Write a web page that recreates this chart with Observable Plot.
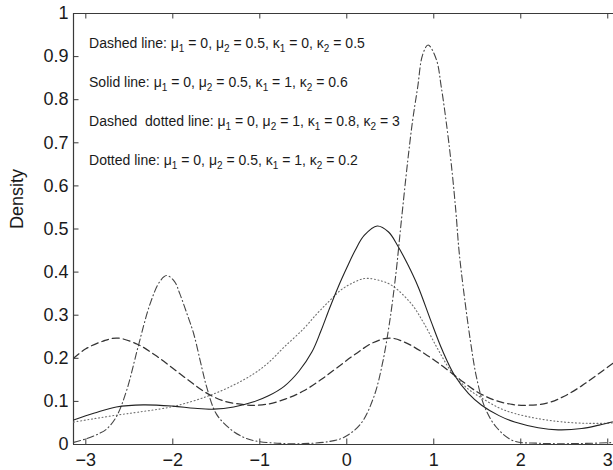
<!DOCTYPE html>
<html><head><meta charset="utf-8">
<script src="https://cdn.jsdelivr.net/npm/d3@7"></script>
<script src="https://cdn.jsdelivr.net/npm/@observablehq/plot@0.6"></script>
<style>body{margin:0;background:#fff;overflow:hidden} svg{display:block}</style>
</head><body><div id="chart"></div><script>
// ---- data ----
const xTicks = [-3, -2, -1, 0, 1, 2, 3];
const yTicks = [0, 0.1, 0.2, 0.3, 0.4, 0.5, 0.6, 0.7, 0.8, 0.9, 1];
const yTickLabels = ["0", "0.1", "0.2", "0.3", "0.4", "0.5", "0.6", "0.7", "0.8", "0.9", "1"];
const yLabel = "Density";

const annotations = [
  "Dashed line: μ_1 = 0, μ_2 = 0.5, κ_1 = 0, κ_2 = 0.5",
  "Solid line: μ_1 = 0, μ_2 = 0.5, κ_1 = 1, κ_2 = 0.6",
  "Dashed  dotted line: μ_1 = 0, μ_2 = 1, κ_1 = 0.8, κ_2 = 3",
  "Dotted line: μ_1 = 0, μ_2 = 0.5, κ_1 = 1, κ_2 = 0.2"
];

const dashedX = [-3.14,-3.0,-2.8,-2.64,-2.4,-2.2,-2.0,-1.8,-1.6,-1.4,-1.2,-1.07,-0.9,-0.7,-0.5,-0.3,-0.1,0.1,0.3,0.5,0.7,0.9,1.1,1.3,1.5,1.7,1.9,2.07,2.3,2.5,2.7,2.9,3.14];
const dashedY = [0.200,0.222,0.240,0.247,0.232,0.207,0.177,0.146,0.118,0.100,0.093,0.091,0.094,0.106,0.124,0.150,0.180,0.210,0.236,0.247,0.234,0.210,0.182,0.151,0.122,0.103,0.093,0.091,0.096,0.112,0.136,0.165,0.200];

const solidX = [-3.14,-2.9,-2.65,-2.34,-2.0,-1.75,-1.53,-1.3,-1.07,-0.9,-0.72,-0.55,-0.4,-0.3,-0.2,-0.1,0,0.1,0.2,0.35,0.48,0.58,0.7,0.82,0.97,1.1,1.24,1.4,1.55,1.75,1.93,2.2,2.43,2.7,2.9,3.14];
const solidY = [0.057,0.073,0.087,0.092,0.089,0.084,0.082,0.087,0.099,0.113,0.135,0.170,0.215,0.262,0.315,0.365,0.410,0.452,0.485,0.507,0.493,0.463,0.418,0.366,0.285,0.218,0.160,0.118,0.091,0.067,0.052,0.039,0.034,0.037,0.045,0.057];

const dottedX = [-3.14,-2.9,-2.65,-2.4,-2.0,-1.6,-1.3,-1.07,-0.9,-0.72,-0.5,-0.34,-0.2,-0.07,0.05,0.2,0.35,0.51,0.74,0.89,1.05,1.22,1.4,1.55,1.75,1.93,2.2,2.5,2.8,3.05,3.14];
const dottedY = [0.052,0.060,0.068,0.075,0.088,0.112,0.138,0.164,0.190,0.226,0.268,0.304,0.333,0.358,0.373,0.385,0.382,0.370,0.327,0.280,0.220,0.164,0.128,0.108,0.085,0.072,0.060,0.052,0.049,0.050,0.052];

const dashDotX = [-3.14,-3.0,-2.85,-2.76,-2.65,-2.53,-2.40,-2.26,-2.15,-2.07,-1.98,-1.92,-1.84,-1.76,-1.68,-1.61,-1.50,-1.34,-1.2,-1.07,-0.8,-0.5,-0.2,-0.03,0.16,0.31,0.41,0.49,0.565,0.62,0.70,0.757,0.815,0.87,0.935,1.03,1.085,1.14,1.2,1.253,1.291,1.348,1.42,1.49,1.585,1.72,1.91,2.2,2.6,3.14];
const dashDotY = [0.005,0.013,0.025,0.036,0.064,0.126,0.226,0.327,0.378,0.392,0.378,0.350,0.305,0.257,0.190,0.133,0.071,0.036,0.018,0.009,0.003,0.002,0.007,0.017,0.048,0.110,0.188,0.281,0.397,0.505,0.657,0.752,0.829,0.903,0.927,0.893,0.831,0.753,0.653,0.543,0.448,0.349,0.242,0.157,0.087,0.040,0.009,0.003,0.002,0.005];

// ---- build rows ----
const rows = (xs, ys) => xs.map((x, i) => ({x, y: ys[i]}));

const lineOpts = {x: "x", y: "y", curve: "catmull-rom", clip: true, fill: "none"};

const chart = Plot.plot({
  width: 613, height: 470,
  marginLeft: 73, marginRight: 0, marginTop: 13, marginBottom: 26,
  style: {fontFamily: "'Liberation Sans', Arial, sans-serif", background: "#fff", color: "#1a1a1a"},
  x: {domain: [-Math.PI, 3.066]},
  y: {domain: [0, 1]},
  marks: [
    // box spines (left, bottom, top)
    Plot.ruleY([0, 1], {stroke: "#3a3a3a", strokeWidth: 1.2}),
    Plot.ruleX([-Math.PI], {stroke: "#3a3a3a", strokeWidth: 1.2}),
    // inward ticks
    Plot.ruleX(xTicks, {y1: 0, y2: 0, insetTop: -5.5, stroke: "#3a3a3a"}),
    Plot.ruleX(xTicks, {y1: 1, y2: 1, insetBottom: -5.5, stroke: "#3a3a3a"}),
    Plot.ruleY(yTicks, {x1: -Math.PI, x2: -Math.PI, insetRight: -5.5, stroke: "#3a3a3a"}),
    Plot.ruleY(yTicks, {x1: Math.PI, x2: Math.PI, insetLeft: -5.5, stroke: "#3a3a3a"}),
    // tick labels
    Plot.axisX(xTicks, {anchor: "bottom", tickSize: 0, tickPadding: 9, fontSize: 18, label: null}),
    Plot.axisY(yTicks, {anchor: "left", tickSize: 0, tickPadding: 5, fontSize: 18, label: null,
      tickFormat: (d) => yTickLabels[yTicks.indexOf(d)]}),
    Plot.text([yLabel], {frameAnchor: "left", rotate: -90, dx: -56, fontSize: 18, fill: "#1a1a1a"}),
    // curves
    Plot.line(rows(dottedX, dottedY), {...lineOpts, stroke: "#6e6e6e", strokeWidth: 1.1, strokeDasharray: "1,2.6"}),
    Plot.line(rows(dashedX, dashedY), {...lineOpts, stroke: "#333", strokeWidth: 1.25, strokeDasharray: "7,4"}),
    Plot.line(rows(dashDotX, dashDotY), {...lineOpts, stroke: "#444", strokeWidth: 1.1, strokeDasharray: "7,3,1,3"}),
    Plot.line(rows(solidX, solidY), {...lineOpts, stroke: "#222", strokeWidth: 1.1}),
    // annotations
    Plot.text(annotations, {x: -2.963, y: (d, i) => 0.93 - i * 0.0905, text: (d) => d,
      textAnchor: "start", fontSize: 14, fill: "#1a1a1a"})
  ]
});

// render subscripts (μ_1 -> μ with subscript 1) as real tspans
d3.select(chart).selectAll("text").filter(function () { return this.textContent.includes("_"); })
  .each(function () {
    const t = d3.select(this);
    const parts = this.textContent.split(/_(\d)/);
    t.text(null);
    let shifted = false;
    parts.forEach((p, i) => {
      if (p === "") return;
      const ts = t.append("tspan").text(p);
      if (i % 2 === 1) { ts.attr("font-size", 10).attr("dy", 4); shifted = true; }
      else if (shifted) { ts.attr("dy", -4); shifted = false; }
    });
  });

document.getElementById("chart").appendChild(chart);
</script></body></html>
